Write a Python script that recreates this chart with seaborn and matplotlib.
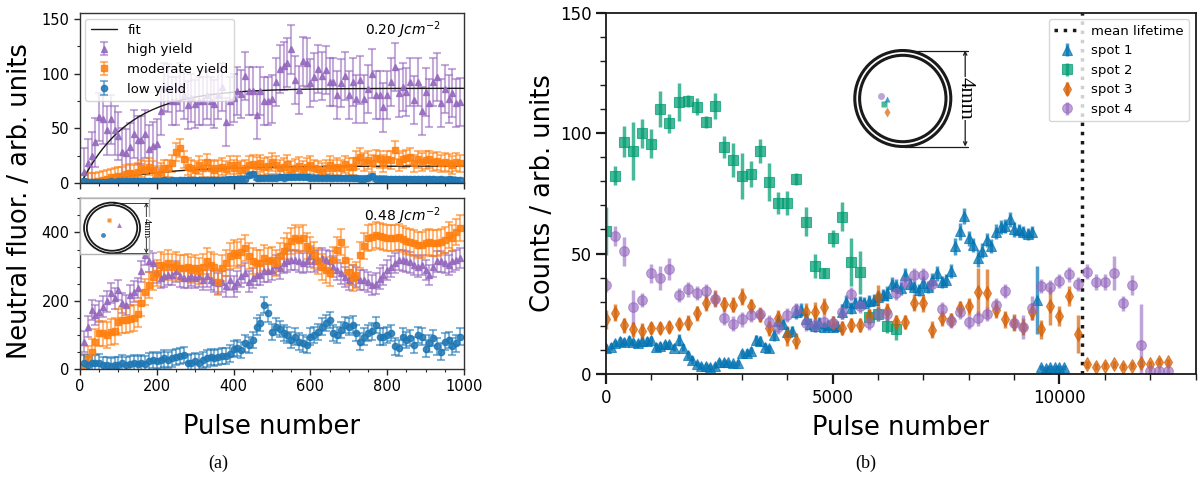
import numpy as np
import matplotlib
matplotlib.use("Agg")
import matplotlib.pyplot as plt
import seaborn as sns
from matplotlib.patches import Circle
from matplotlib.lines import Line2D

# ---------------------------------------------------------------- data
# (a) neutral fluorescence, one point every 10 pulses starting at pulse 10
high_020 = [10, 18, 25, 37, 60, 58, 48, 58, 48, 43,
            28.5, 27, 33, 45, 39, 39, 45, 31, 34, 36,
            66, 88, 87, 75, 75, 88, 80, 71, 78, 72,
            75, 75, 80, 75, 72, 80, 88, 56, 75, 78,
            84, 81, 98, 84, 84, 62, 84, 75, 75, 77,
            92, 104, 107, 110, 122, 94, 85, 111, 110, 91,
            97, 104, 98, 103, 92, 92, 80, 91, 98, 80,
            92, 77, 94, 77, 86, 100, 80, 80, 69, 80,
            92, 106, 82, 88, 83, 92, 76, 92, 66, 83,
            73, 92, 97, 73, 86, 77, 82, 73, 74]
moderate_020 = [0.3, 1, 1.1, 1.2, 2, 2.7, 3.6, 5.2, 5.8, 6.4,
                6.7, 8.2, 9.4, 8.2, 10.3, 13.4, 11.8, 14.9, 11.8, 7.3,
                10.3, 13.4, 13.4, 17.9, 28.5, 32.2, 21.6, 14.9, 13.4, 11.8,
                16.4, 13.4, 18.8, 13.4, 11.8, 13.4, 14.9, 12.5, 16.4, 13.4,
                16.4, 11.8, 13.4, 16.4, 17.3, 15.8, 17.9, 14.9, 15.8, 19.4,
                16.4, 13.4, 14.9, 17.3, 11.8, 14, 15.8, 11.8, 14.9, 16.4,
                13.4, 12.5, 10.3, 13.4, 16.4, 13.4, 14.9, 13.4, 17, 14.9,
                14.9, 21, 24, 19.4, 21, 17.9, 22.5, 21.6, 17.9, 21.6,
                21, 30, 19.4, 21.6, 22.5, 24, 17.9, 21.6, 19.4, 21,
                21.6, 19.4, 20.3, 17.9, 19.4, 18.5, 16.4, 19.4, 17.9]
low_020 = [1.5, 1, 0.8, 1, 1.2, 1, 1.3, 1.5, 1.2, 1.4,
           1.6, 1.5, 1.8, 1.6, 2, 1.8, 2, 2.1, 1.9, 2.2,
           2, 2.3, 2.1, 2.4, 2.2, 2.5, 2.3, 2.6, 2.4, 2.5,
           2.7, 2.5, 2.8, 2.6, 2.9, 3, 2.8, 3.1, 3.3, 3.2,
           3.5, 4, 3.8, 7, 8.5, 4.5, 4.2, 4.6, 4.8, 5,
           4.8, 5.2, 5, 5.4, 5.1, 5.3, 5.6, 5.2, 5.5, 5,
           4.8, 5, 4.6, 4.9, 4.5, 4.7, 4.4, 4.6, 4.3, 4.5,
           4.2, 4.4, 4.1, 4, 4.3, 6, 4.1, 3.8, 4, 3.7,
           3.9, 3.6, 3.8, 3.5, 3.7, 3.4, 3.6, 3.3, 3.5, 3.4,
           3.2, 3.4, 3.1, 3.3, 3, 3.2, 3.1, 2.9, 3]
high_048 = [80, 124, 173, 158, 168, 183, 198, 222, 207, 232,
            193, 188, 216, 227, 237, 286, 334, 315, 310, 281,
            266, 271, 276, 276, 286, 271, 266, 266, 273, 266,
            271, 261, 271, 261, 256, 251, 256, 242, 261, 242,
            256, 271, 281, 256, 266, 276, 276, 286, 286, 290,
            305, 295, 310, 315, 320, 320, 315, 310, 315, 330,
            315, 320, 325, 320, 315, 300, 290, 280, 270, 261,
            275, 270, 261, 261, 255, 246, 250, 265, 275, 290,
            300, 310, 320, 318, 315, 312, 305, 300, 305, 290,
            275, 300, 315, 315, 310, 305, 315, 320, 325]
moderate_048 = [7, 30, 51, 80, 104, 104, 99, 108, 110, 138,
                143, 143, 146, 150, 160, 192, 226, 246, 270, 281,
                305, 300, 310, 300, 305, 295, 295, 300, 290, 295,
                286, 300, 315, 305, 300, 256, 295, 310, 330, 339,
                334, 344, 354, 330, 315, 310, 310, 325, 315, 320,
                310, 330, 345, 360, 374, 383, 378, 383, 360, 349,
                335, 315, 300, 290, 281, 320, 350, 373, 320, 285,
                266, 275, 334, 360, 383, 388, 393, 390, 388, 383,
                385, 383, 388, 380, 374, 373, 368, 364, 364, 370,
                373, 368, 369, 372, 378, 393, 385, 400, 413]
low_048 = [17, 12, 17, 17, 19, 12, 12, 9, 12, 12,
           17, 12, 15, 17, 15, 17, 15, 22, 26, 24,
           26, 31, 26, 31, 36, 38, 41, 17, 19, 22,
           19, 26, 31, 36, 33, 36, 38, 38, 45, 58,
           61, 56, 75, 70, 85, 124, 134, 188, 163,
           109, 124, 118, 105, 100, 85, 95, 80, 75, 70,
           95, 100, 109, 124, 134, 144, 105, 100, 114, 129,
           124, 130, 105, 80, 95, 105, 110, 129, 95, 95,
           100, 105, 66, 61, 95, 85, 90, 70, 100, 95,
           60, 75, 90, 66, 51, 80, 85, 66, 75, 95]

# typical one-sigma uncertainty of each series
err_020 = {"high": 22, "moderate": 8, "low": 2}
err_048 = {"high": 30, "moderate": 38, "low": 24}

# saturating-exponential fits: amplitude, time constant, onset pulse
fit_020 = {"high": (86.5, 125, 8), "moderate": (15.5, 170, 45)}

fluence_labels = ["0.20 $Jcm^{-2}$", "0.48 $Jcm^{-2}$"]
yield_labels = ["high yield", "moderate yield", "low yield"]

# spot positions inside the 4 mm aperture (mm from centre)
yield_pos_x = [0.52, -0.21, -0.62]
yield_pos_y = [0.22, 0.64, -0.56]

# (b) counts per spot
spot1_step, spot1 = 100, [
    11, 11.3, 12.7, 13.7, 13.4, 14.1, 13.1, 12.7, 13.8, 13.7,
    14.1, 11.3, 11.6, 12.3, 12.3, 11, 14.1, 11, 7.9, 5.8,
    4, 3.3, 3.3, 2.8, 3.3, 5.1, 5.1, 4.8, 4.4, 4.7,
    8.6, 8.9, 9.7, 14.1, 13.7, 11.3, 10.7, 16.2, 22.1, 20.7,
    17.6, 18, 25.9, 26.6, 22.7, 20.7, 19.9, 21.3, 19.6, 20.3,
    19.4, 19.9, 25.9, 30, 27.5, 29.3, 30, 29.3, 30.4, 30.7,
    31.8, 32.8, 33.5, 37.3, 36.5, 35.5, 41, 37.3, 36.2, 34.9,
    37.6, 36.2, 39, 41.8, 38.3, 39, 42.7, 53.1, 59.3, 65.6,
    56.3, 53.5, 48, 51.2, 55.6, 53.1, 59.1, 61.1, 61.4, 64.2,
    60, 59.8, 59.1, 58.1, 59.1, 30.7, 2.8, 2.4, 2.8, 2.8,
    2.8, 2.8]
spot1_err = [1.5, 1.5, 1.5, 1.5, 1.5, 1.5, 1.5, 1.5, 1.5, 1.5,
             1.5, 1.5, 1.5, 1.5, 1.5, 1.5, 2.5, 1.5, 1.5, 1.5,
             1.2, 1.2, 1.2, 1.2, 1.2, 1.2, 1.2, 1.2, 1.2, 1.2,
             1.5, 1.5, 1.5, 2, 2, 1.5, 1.5, 2.5, 2.5, 2,
             2, 2, 3, 3, 2.5, 2.5, 2.5, 2.5, 2, 2,
             2, 2, 3, 3, 2.5, 2.5, 2.5, 2.5, 2.5, 2.5,
             2.5, 2.5, 3, 3, 3, 2.5, 3, 2.5, 2.5, 2.5,
             3, 2.5, 3, 3, 2.5, 2.5, 3, 3.5, 3.5, 3.5,
             3, 3, 3.5, 3, 3, 3, 3, 3, 3, 3,
             3, 2.5, 2.5, 2.5, 2.5, 14, 1, 1, 1, 1,
             1, 1]
spot2_step, spot2 = 200, [
    59.3, 82.3, 96.4, 92.5, 100, 95.6, 110, 104, 112.9, 113.3,
    111, 104.7, 111.3, 94.3, 88.8, 82.2, 83.1, 92.5, 79.8, 71.1,
    71.1, 80.9, 63.3, 45, 41.9, 56.3, 65.3, 46.6, 42.2, 23.8,
    24.9, 20, 18.5]
spot2_err = [10, 4, 6.5, 12, 6, 6, 7.5, 4, 8, 2.5,
             3.5, 2.5, 5.5, 4.5, 7, 9.5, 5.5, 5, 8, 4.5,
             5, 2.5, 6, 5, 2, 3.5, 6, 10, 9, 3,
             3, 3, 4.5]
spot3_step, spot3 = 200, [
    22.7, 25.4, 20.2, 18.5, 18, 19.1, 18.9, 19.6, 20.6, 21.3,
    25.2, 29.6, 31.3, 29, 28.8, 32.1, 28.2, 24.5, 18.9, 23.1,
    15.8, 13.7, 25.9, 25.9, 27.9, 21, 19.2, 20.3, 20.3, 24,
    31.8, 26, 21.7, 21.7, 29.6, 29.3, 18.3, 23.1, 22.4, 27.2,
    28.2, 34.2, 33.7, 26.6, 22.7, 21.3, 19.6, 25.9, 18.5, 28.2,
    24.1, 32.4, 16.6, 4.1, 3, 3.5, 4.1, 3, 3.5, 4.4,
    4.1, 5.1, 4.8]
spot3_err = [4, 3.5, 3, 3, 3, 2.5, 2.5, 2.5, 2.5, 3,
             3, 3.5, 3.5, 3, 3, 3.5, 3, 3, 3, 3.5,
             4, 3.5, 3.5, 4, 3.5, 3, 3, 3, 3, 3,
             5, 3.5, 3, 3, 3.5, 3.5, 3.5, 3, 3, 3,
             3.5, 10, 10, 3.5, 3.5, 3.5, 3.5, 3.5, 4, 8,
             4, 4, 8, 1.5, 1.5, 1.5, 1.5, 1.5, 1.5, 1.5,
             1.5, 1.5, 1.5]
spot4_step, spot4 = 200, [
    36.9, 57.3, 51, 27.7, 30.7, 41.8, 39.8, 43.6, 32.8, 35.1,
    33.7, 34.4, 31.3, 23.4, 20.9, 22.7, 24.5, 24.9, 21.7, 19.6,
    24.5, 26.6, 21, 20.3, 21.7, 21, 25.9, 33.2, 28.2, 21.3,
    24.9, 24.9, 33.7, 38.3, 41, 41, 37.3, 26.8, 22, 25.7,
    21.7, 23.1, 24.9, 28.5, 34.4, 21.3, 19.4, 27.5, 36.5, 36.2,
    38.7, 41.4, 37.3, 42.5, 38.2, 38.2, 42, 29.3, 36.9, 12,
    1.2, 1.2, 1.2]
spot4_err = [3, 4, 6, 7, 3, 4, 5, 4.5, 3, 3,
             3, 3, 3, 3, 3, 3, 3, 3, 3, 3,
             3, 3, 3, 3, 3, 3, 3, 3, 3, 3,
             3, 3, 3, 3, 3, 3, 3, 3, 3, 3,
             3, 3, 3, 3, 3, 3, 5, 5, 3, 3,
             3, 3, 3, 3, 3.5, 3.5, 7, 3, 4, 17,
             1, 1, 1]
spot_labels = ["spot 1", "spot 2", "spot 3", "spot 4"]
mean_lifetime = 10500

# spot positions inside the aperture (mm from centre)
spot_pos_x = [-0.67, -0.79, -0.64, -0.90]
spot_pos_y = [-0.03, -0.23, -0.55, 0.09]

# ---------------------------------------------------------------- style
sns.set_theme(style="ticks")
plt.rcParams["font.family"] = ["DejaVu Sans"]
plt.rcParams["mathtext.fontset"] = "dejavusans"
for key in ["text.color", "axes.labelcolor", "xtick.color", "ytick.color"]:
    plt.rcParams[key] = "black"

W, H = 1204, 478
fig = plt.figure(figsize=(W / 100, H / 100), dpi=100)


def px_axes(x0, y0, x1, y1):
    """Axes from pixel box (left, top, right, bottom)."""
    return fig.add_axes([x0 / W, 1 - y1 / H, (x1 - x0) / W, (y1 - y0) / H])


tab = sns.color_palette("tab10")
yield_colors = [tab[4], tab[1], tab[0]]
yield_markers = ["^", "s", "o"]


def rgba(c, a):
    return (c[0], c[1], c[2], a)


def draw_yield(ax, values, err, color, marker, label):
    x = np.arange(1, len(values) + 1) * 10
    return ax.errorbar(x, values, yerr=err, fmt=marker, ms=4.5,
                       color=rgba(color, 0.85), mec=rgba(color, 0.85),
                       ecolor=rgba(color, 0.55), elinewidth=1.5,
                       capsize=3, capthick=1.5, label=label)


def style_left(ax):
    for s in ax.spines.values():
        s.set_color("0.2")
        s.set_linewidth(1.0)
    ax.tick_params(which="major", direction="out", length=4, width=1,
                   labelsize=10.5, color="0.15")
    ax.tick_params(which="minor", direction="out", length=2.5, width=0.8,
                   color="0.15")
    ax.set_xlim(0, 1000)
    ax.xaxis.set_major_locator(matplotlib.ticker.MultipleLocator(200))
    ax.xaxis.set_minor_locator(matplotlib.ticker.MultipleLocator(50))


# ---------------------------------------------------------------- (a) top
ax_t = px_axes(80, 13.3, 464, 183)
style_left(ax_t)
h_high = draw_yield(ax_t, high_020, err_020["high"], yield_colors[0], "^", yield_labels[0])
h_mod = draw_yield(ax_t, moderate_020, err_020["moderate"], yield_colors[1], "s", yield_labels[1])
h_low = draw_yield(ax_t, low_020, err_020["low"], yield_colors[2], "o", yield_labels[2])
for key in ["high", "moderate"]:
    amp, tau, onset = fit_020[key]
    xf = np.linspace(onset, 1000, 400)
    sns.lineplot(x=xf, y=amp * (1 - np.exp(-(xf - onset + 5) / tau)),
                 ax=ax_t, color="k", lw=1.0, legend=False)
ax_t.set_ylim(0, 155)
ax_t.yaxis.set_major_locator(matplotlib.ticker.MultipleLocator(50))
ax_t.yaxis.set_minor_locator(matplotlib.ticker.MultipleLocator(25))
ax_t.tick_params(labelbottom=False)
fit_handle = Line2D([], [], color="k", lw=1.0)
ax_t.legend([fit_handle, h_high, h_mod, h_low], ["fit"] + yield_labels,
            loc="upper left", fontsize=9.5, frameon=True, borderaxespad=0.4)
ax_t.text(0.94, 0.965, fluence_labels[0], transform=ax_t.transAxes,
          ha="right", va="top", fontsize=10)

# ---------------------------------------------------------------- (a) bottom
ax_b = px_axes(80, 198.3, 464, 369)
style_left(ax_b)
draw_yield(ax_b, high_048, err_048["high"], yield_colors[0], "^", yield_labels[0])
draw_yield(ax_b, moderate_048, err_048["moderate"], yield_colors[1], "s", yield_labels[1])
draw_yield(ax_b, low_048, err_048["low"], yield_colors[2], "o", yield_labels[2])
ax_b.set_ylim(0, 500)
ax_b.yaxis.set_major_locator(matplotlib.ticker.MultipleLocator(200))
ax_b.yaxis.set_minor_locator(matplotlib.ticker.MultipleLocator(50))
ax_b.set_xlabel("Pulse number", fontsize=18.5, labelpad=14)
ax_b.text(0.94, 0.96, fluence_labels[1], transform=ax_b.transAxes,
          ha="right", va="top", fontsize=10)

fig.text(20 / W, 1 - 201 / H, "Neutral fluor. / arb. units", rotation=90,
         ha="center", va="center", fontsize=18.5)


def aperture(ax, rings_lw, dim_x, text_size, line_lw):
    for r in (2.0, 1.8):
        ax.add_patch(Circle((0, 0), r, fill=False, lw=rings_lw, ec="k"))
    for yy in (2.0, -2.0):
        ax.plot([0.05, dim_x + 0.12], [yy, yy], color="k", lw=line_lw)
    ax.annotate("", xy=(dim_x, 2.0), xytext=(dim_x, -2.0),
                arrowprops=dict(arrowstyle="<->", lw=line_lw, color="k",
                                shrinkA=0, shrinkB=0, mutation_scale=6))
    ax.text(dim_x, 0, "4mm", rotation=270, ha="center", va="center",
            fontsize=text_size, family=["Liberation Serif"],
            bbox=dict(fc="white", ec="none", pad=0.3))
    ax.set_xticks([])
    ax.set_yticks([])


# inset of (a)
ins_a = px_axes(80, 198.3, 148.7, 254.3)
ins_a.set_xlim(-2.29, 2.62)
ins_a.set_ylim(-2.08, 2.34)
aperture(ins_a, 1.3, 2.45, 7, 0.6)
for px_, py_, c, m in zip(yield_pos_x, yield_pos_y, yield_colors, yield_markers):
    ins_a.plot(px_, py_, m, ms=3.5, color=rgba(c, 0.85), mec="none")
for s in ins_a.spines.values():
    s.set_color("0.7")
    s.set_linewidth(1.0)

# ---------------------------------------------------------------- (b)
ax_r = px_axes(606, 12.7, 1195.5, 374)
spot_colors = ["#0173b2", "#029e73", "#d55e00", "#9467bd"]
spot_alpha = [0.7, 0.72, 0.68, 0.6]
spot_markers = ["^", "s", "d", "o"]
spot_ms = [7.5, 7, 7, 7]
spots = [(spot1_step, spot1, spot1_err), (spot2_step, spot2, spot2_err),
         (spot3_step, spot3, spot3_err), (spot4_step, spot4, spot4_err)]

mean_handle = ax_r.axvline(mean_lifetime, color="k", ls=":", lw=2.5)
spot_handles = []
for (step, vals, errs), c, a, m, ms, lab in zip(spots, spot_colors, spot_alpha,
                                                 spot_markers, spot_ms, spot_labels):
    x = np.arange(len(vals)) * step
    h = ax_r.errorbar(x, vals, yerr=errs, fmt=m, ms=ms, color=c, alpha=a,
                      mec=c, mew=0.8, elinewidth=2.5, capsize=0, label=lab)
    spot_handles.append(h)

ax_r.set_xlim(0, 13000)
ax_r.set_ylim(0, 150)
ax_r.xaxis.set_major_locator(matplotlib.ticker.MultipleLocator(5000))
ax_r.xaxis.set_minor_locator(matplotlib.ticker.MultipleLocator(1000))
ax_r.yaxis.set_major_locator(matplotlib.ticker.MultipleLocator(50))
ax_r.yaxis.set_minor_locator(matplotlib.ticker.MultipleLocator(10))
for s in ax_r.spines.values():
    s.set_color("0.1")
    s.set_linewidth(1.3)
ax_r.tick_params(which="major", direction="out", length=7, width=1.6,
                 labelsize=12, color="k")
ax_r.tick_params(which="minor", direction="out", length=4, width=1.0, color="k")
ax_r.set_xlabel("Pulse number", fontsize=18.5, labelpad=6)
ax_r.set_ylabel("Counts / arb. units", fontsize=18.5, labelpad=3)
ax_r.legend([mean_handle] + spot_handles, ["mean lifetime"] + spot_labels,
            loc="upper right", fontsize=9.5, frameon=True)

# inset of (b)
ins_b = px_axes(850, 45.7, 972.4, 151.3)
ins_b.set_xlim(-2.2, 2.9)
ins_b.set_ylim(-2.2, 2.2)
ins_b.patch.set_alpha(0)
aperture(ins_b, 2.2, 2.6, 15, 0.9)
for px_, py_, c, a, m in zip(spot_pos_x, spot_pos_y, spot_colors, spot_alpha, spot_markers):
    ins_b.plot(px_, py_, m, ms=5, color=c, alpha=a, mec="none")
for s in ins_b.spines.values():
    s.set_visible(False)

# captions
fig.text(218 / W, 1 - 463 / H, "(a)", ha="center", va="center",
         fontsize=13, family=["Liberation Serif"])
fig.text(866 / W, 1 - 463 / H, "(b)", ha="center", va="center",
         fontsize=13, family=["Liberation Serif"])

fig.savefig("out.png", dpi=100)
